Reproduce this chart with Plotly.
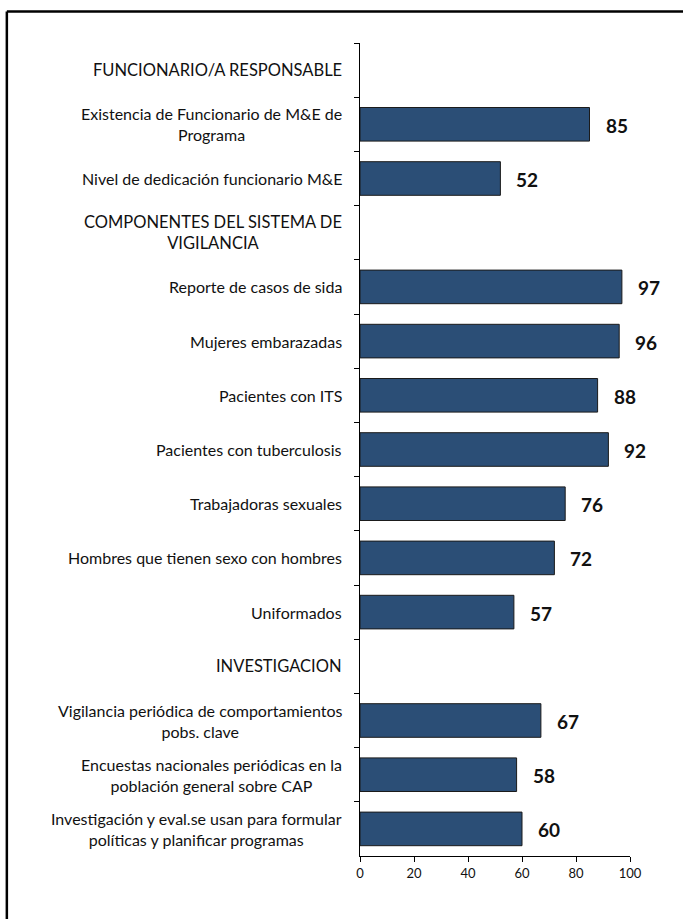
import plotly.graph_objects as go

categories = [
    "FUNCIONARIO/A RESPONSABLE",
    "Existencia de Funcionario de M&E de<br>Programa",
    "Nivel de dedicación funcionario M&E",
    "COMPONENTES DEL SISTEMA DE<br>VIGILANCIA",
    "Reporte de casos de sida",
    "Mujeres embarazadas",
    "Pacientes con ITS",
    "Pacientes con tuberculosis",
    "Trabajadoras sexuales",
    "Hombres que tienen sexo con hombres",
    "Uniformados",
    "INVESTIGACION",
    "Vigilancia periódica de comportamientos<br>pobs. clave",
    "Encuestas nacionales periódicas en la<br>población general sobre CAP",
    "Investigación y eval.se usan para formular<br>políticas y planificar programas",
]
values = [None, 85, 52, None, 97, 96, 88, 92, 76, 72, 57, None, 67, 58, 60]
x_ticks = [0, 20, 40, 60, 80, 100]

FONT = "Lato, 'Open Sans', sans-serif"
HEADERS = {"FUNCIONARIO/A RESPONSABLE", "COMPONENTES DEL SISTEMA DE<br>VIGILANCIA", "INVESTIGACION"}

fig = go.Figure()
fig.add_trace(go.Bar(
    y=categories, x=values, orientation="h",
    marker=dict(color="#2B4E76", line=dict(color="#1b1b1b", width=1)),
    hoverinfo="skip",
))

annotations = []
for c, v in zip(categories, values):
    annotations.append(dict(
        xref="paper", yref="y", x=0, y=c, text=c, showarrow=False,
        xanchor="right", yanchor="middle", align="center", xshift=-16,
        font=dict(family=FONT, size=16.5 if c in HEADERS else 16, color="#111111"),
    ))
    if v is not None:
        annotations.append(dict(
            xref="x", yref="y", x=v, y=c, text=f"<b>{v}</b>", showarrow=False,
            xanchor="left", yanchor="middle", xshift=14, yshift=-1,
            font=dict(family=FONT, size=19, color="#111111"),
        ))

# outer border (left and top edges visible; right/bottom cut off)
bx = (8 - 360.5) / 269.5
by = (856.5 - 12) / 813
shapes = [
    dict(type="line", xref="paper", yref="paper", x0=bx, x1=bx, y0=-0.2, y1=by,
         line=dict(color="black", width=2.5)),
    dict(type="line", xref="paper", yref="paper", x0=bx, x1=1.5, y0=by, y1=by,
         line=dict(color="black", width=2.5)),
]

fig.update_layout(
    width=683, height=919,
    margin=dict(l=360, r=53, t=43, b=63),
    paper_bgcolor="white", plot_bgcolor="white",
    showlegend=False, bargap=0.38,
    annotations=annotations, shapes=shapes,
    font=dict(family=FONT, size=13, color="#111111"),
)
fig.update_xaxes(
    range=[0, 100], tickvals=x_ticks, showgrid=False, zeroline=False,
    showline=True, linecolor="black", linewidth=1,
    ticks="outside", ticklen=5, tickcolor="black",
    tickfont=dict(family=FONT, size=13, color="#111111"),
)
fig.update_yaxes(
    autorange="reversed", showticklabels=False, showgrid=False,
    showline=True, linecolor="black", linewidth=1,
    ticks="outside", ticklen=5, tickcolor="black", tickson="boundaries",
)

fig.write_html("out.html")
